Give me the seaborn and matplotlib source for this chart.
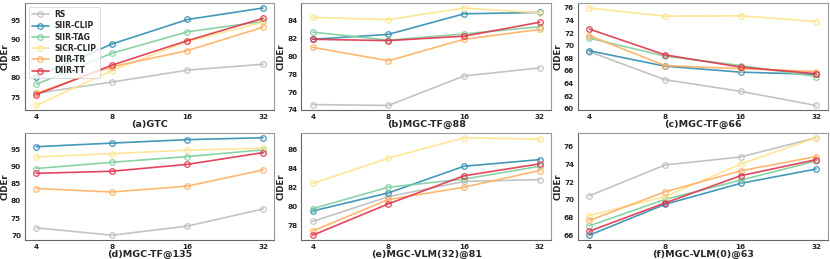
import numpy as np
import pandas as pd
import seaborn as sns
import matplotlib.pyplot as plt

sns.set_style('white')
plt.rcParams['font.family'] = ['DejaVu Sans']

shots = ['4', '8', '16', '32']
methods = ['RS', 'SIIR-CLIP', 'SIIR-TAG', 'SICR-CLIP', 'DIIR-TR', 'DIIR-TT']
colors = ['#bdbdbd', '#2f8db3', '#7fcf9c', '#ffe38c', '#ffb061', '#e0334b']
titles = ['(a)GTC', '(b)MGC-TF@88', '(c)MGC-TF@66',
          '(d)MGC-TF@135', '(e)MGC-VLM(32)@81', '(f)MGC-VLM(0)@63']

# values per panel, one row per method (order of `methods`)
gtc = [[76.0, 78.9, 82.0, 83.55],
       [80.3, 88.8, 95.2, 98.2],
       [78.3, 86.4, 92.0, 94.7],
       [72.8, 81.9, 89.5, 94.5],
       [76.0, 82.9, 87.1, 93.2],
       [75.6, 83.3, 89.7, 95.5]]
tf88 = [[74.6, 74.5, 77.8, 78.7],
        [81.9, 82.45, 84.75, 84.9],
        [82.7, 81.8, 82.5, 83.3],
        [84.35, 84.1, 85.4, 84.85],
        [81.0, 79.5, 81.9, 83.0],
        [81.9, 81.75, 82.25, 83.8]]
tf66 = [[69.05, 64.6, 62.75, 60.5],
        [69.2, 66.75, 65.8, 65.45],
        [71.2, 68.35, 66.85, 65.1],
        [76.0, 74.7, 74.75, 73.85],
        [71.6, 66.85, 66.35, 65.9],
        [72.65, 68.55, 66.6, 65.55]]
tf135 = [[72.25, 70.1, 72.75, 77.7],
         [95.7, 96.75, 97.75, 98.3],
         [89.4, 91.2, 92.85, 94.8],
         [92.75, 93.7, 94.7, 95.3],
         [83.6, 82.6, 84.3, 89.0],
         [88.0, 88.6, 90.6, 94.0]]
vlm32 = [[78.4, 81.0, 82.6, 82.8],
         [79.5, 81.4, 84.2, 84.9],
         [79.75, 82.0, 82.85, 84.2],
         [82.4, 85.05, 87.2, 87.05],
         [77.4, 80.7, 82.0, 83.75],
         [76.95, 80.25, 83.2, 84.45]]
vlm0 = [[70.45, 73.9, 74.8, 76.95],
        [66.05, 69.5, 71.85, 73.45],
        [67.1, 70.05, 72.2, 74.35],
        [68.25, 70.35, 74.0, 76.95],
        [67.7, 70.9, 73.25, 74.85],
        [66.5, 69.65, 72.7, 74.5]]
panels = [gtc, tf88, tf66, tf135, vlm32, vlm0]
yticks = [[75, 80, 85, 90, 95], [74, 76, 78, 80, 82, 84], list(range(60, 77, 2)),
          [70, 75, 80, 85, 90, 95], [78, 80, 82, 84, 86], [66, 68, 70, 72, 74, 76]]

fig, axes = plt.subplots(2, 3, figsize=(8.3, 2.59), dpi=100)
fig.subplots_adjust(left=0.030, right=0.997, bottom=0.073, top=0.988,
                    wspace=0.108, hspace=0.21)

for i, ax in enumerate(axes.flat):
    vals = panels[i]
    for m, c, row in zip(methods, colors, vals):
        df = pd.DataFrame({'shot': shots, 'cider': row})
        sns.lineplot(data=df, x='shot', y='cider', ax=ax, color=c, label=m,
                     marker='o', markersize=4, mfc='none', mec=c, mew=0.9,
                     linewidth=1.2, alpha=0.9, legend=(i == 0))
    ax.set_yticks(yticks[i])
    ax.set_xlabel(titles[i], fontsize=6.8, fontweight='bold', labelpad=0)
    ax.set_ylabel('CIDEr', fontsize=6.2, fontweight='bold', labelpad=1)
    ax.tick_params(axis='both', labelsize=5.2, length=2, width=0.6,
                   color='#555555', pad=0.8)
    for lab in ax.get_xticklabels() + ax.get_yticklabels():
        lab.set_fontweight('bold')
    for side in ['left', 'bottom']:
        ax.spines[side].set_color('#666666')
        ax.spines[side].set_linewidth(0.8)
    for side in ['top', 'right']:
        ax.spines[side].set_color('#999999')
        ax.spines[side].set_linewidth(0.8)

leg = axes[0, 0].legend(loc='upper left', frameon=True,
                        handlelength=2.2, borderpad=0.4, labelspacing=0.3,
                        prop={'weight': 'bold', 'size': 5.5})
leg.get_frame().set_linewidth(0.6)

fig.savefig('out.png', dpi=100)
